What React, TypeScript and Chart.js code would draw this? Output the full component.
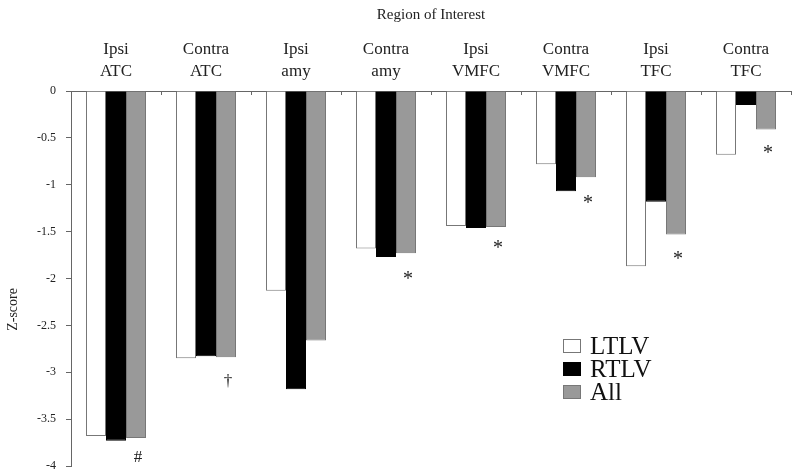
import React, { useEffect, useRef } from 'react';
import { Chart, registerables } from 'chart.js';

Chart.register(...registerables);

const categories: string[][] = [
  ['Ipsi', 'ATC'], ['Contra', 'ATC'], ['Ipsi', 'amy'], ['Contra', 'amy'],
  ['Ipsi', 'VMFC'], ['Contra', 'VMFC'], ['Ipsi', 'TFC'], ['Contra', 'TFC'],
];
const ltlv = [-3.68, -2.85, -2.13, -1.68, -1.44, -0.78, -1.87, -0.68];
const rtlv = [-3.73, -2.83, -3.18, -1.77, -1.46, -1.07, -1.18, -0.15];
const allVals = [-3.70, -2.84, -2.66, -1.73, -1.45, -0.92, -1.53, -0.41];
const marks = ['#', '†', '', '*', '*', '*', '*', '*'];
const markY: (number | null)[] = [-3.91, -3.10, null, -1.97, -1.64, -1.16, -1.76, -0.63];
const seriesNames = ['LTLV', 'RTLV', 'All'];
const yTickMin = -4;
const yTickMax = 0;
const yStep = 0.5;
const yTitle = 'Z-score';
const xTitle = 'Region of Interest';

const FONT = "'Liberation Serif', 'DejaVu Serif', serif";

const extras = {
  id: 'extras',
  afterDraw(chart: any) {
    const ctx = chart.ctx;
    const xs = chart.scales.x;
    const ys = chart.scales.y;
    const ca = chart.chartArea;
    ctx.save();
    // inward tick marks at category boundaries on the top axis
    ctx.strokeStyle = '#666';
    ctx.lineWidth = 1;
    for (let i = 0; i < categories.length; i++) {
      const bx = Math.round(xs.getPixelForValue(i + 0.5)) + 0.5;
      ctx.beginPath();
      ctx.moveTo(bx, ca.top);
      ctx.lineTo(bx, ca.top + 4);
      ctx.stroke();
    }
    // y axis title (placed a bit below the axis middle, as in the original)
    ctx.save();
    ctx.translate(13, ys.getPixelForValue(-2.33));
    ctx.rotate(-Math.PI / 2);
    ctx.fillStyle = '#222';
    ctx.textAlign = 'center';
    ctx.textBaseline = 'middle';
    ctx.font = `14px ${FONT}`;
    ctx.fillText(yTitle, 0, 0);
    ctx.restore();
    // significance marks
    const meta = chart.getDatasetMeta(2);
    ctx.fillStyle = '#222';
    ctx.textAlign = 'center';
    ctx.textBaseline = 'middle';
    for (let i = 0; i < marks.length; i++) {
      const v = markY[i];
      if (!marks[i] || v === null) continue;
      const px = meta.data[i].x + 2;
      let py = ys.getPixelForValue(v);
      if (marks[i] === '*') {
        ctx.font = `20px ${FONT}`;
        py += 4;
      } else {
        ctx.font = `17px ${FONT}`;
      }
      ctx.fillText(marks[i], px, py);
    }
    // legend
    const ds = chart.data.datasets;
    const lx = 563;
    const ly = 339;
    for (let i = 0; i < ds.length; i++) {
      const y0 = ly + i * 23;
      ctx.fillStyle = ds[i].backgroundColor;
      ctx.fillRect(lx, y0, 18, 14);
      ctx.strokeStyle = i === 1 ? '#000' : '#777';
      ctx.lineWidth = 1;
      ctx.strokeRect(lx + 0.5, y0 + 0.5, 17, 13);
      ctx.fillStyle = '#111';
      ctx.textAlign = 'left';
      ctx.textBaseline = 'alphabetic';
      ctx.font = `25px ${FONT}`;
      ctx.fillText(ds[i].label, lx + 27, y0 + 15);
    }
    ctx.restore();
  },
};

export default function App() {
  const ref = useRef<HTMLCanvasElement>(null);
  useEffect(() => {
    const chart = new Chart(ref.current as HTMLCanvasElement, {
      type: 'bar',
      data: {
        labels: categories as any,
        datasets: [
          { label: seriesNames[0], data: ltlv, backgroundColor: '#ffffff', borderColor: '#777', borderWidth: 1, borderSkipped: 'start' },
          { label: seriesNames[1], data: rtlv, backgroundColor: '#000000', borderColor: '#000', borderWidth: 1, borderSkipped: 'start' },
          { label: seriesNames[2], data: allVals, backgroundColor: '#999999', borderColor: '#777', borderWidth: 1, borderSkipped: 'start' },
        ],
      },
      options: {
        responsive: false,
        animation: false,
        events: [],
        layout: { padding: { left: 0, top: 0, right: 9, bottom: 9 } },
        datasets: { bar: { categoryPercentage: 2 / 3, barPercentage: 1 } },
        plugins: {
          legend: { display: false },
          tooltip: { enabled: false },
        },
        scales: {
          x: {
            position: 'top',
            grid: { display: false, drawTicks: false },
            border: { display: true, color: '#666' },
            ticks: {
              font: { family: FONT, size: 17, lineHeight: 1.3 },
              color: '#222',
              padding: 8,
              maxRotation: 0,
              autoSkip: false,
            },
            title: {
              display: true,
              text: xTitle,
              color: '#222',
              font: { family: FONT, size: 15 },
              padding: { top: 6, bottom: 0 },
            },
            afterFit: (s: any) => { s.height = 91; },
          },
          y: {
            min: yTickMin,
            max: yTickMax,
            ticks: {
              stepSize: yStep,
              font: { family: FONT, size: 12 },
              color: '#222',
              padding: 10,
              callback: (v: any) => String(Number(v)),
            },
            grid: { drawOnChartArea: false, drawTicks: true, tickLength: 5, color: '#666' },
            border: { display: true, color: '#666' },
            title: { display: false },
            afterFit: (s: any) => { s.width = 71; s.paddingTop = 0; s.paddingBottom = 0; },
          },
        },
      } as any,
      plugins: [extras],
    });
    return () => chart.destroy();
  }, []);
  return (
    <div style={{ position: 'fixed', left: 0, top: 0, width: 800, height: 475, background: '#fff' }}>
      <canvas ref={ref} width={800} height={475} style={{ width: 800, height: 475, display: 'block' }} />
    </div>
  );
}
